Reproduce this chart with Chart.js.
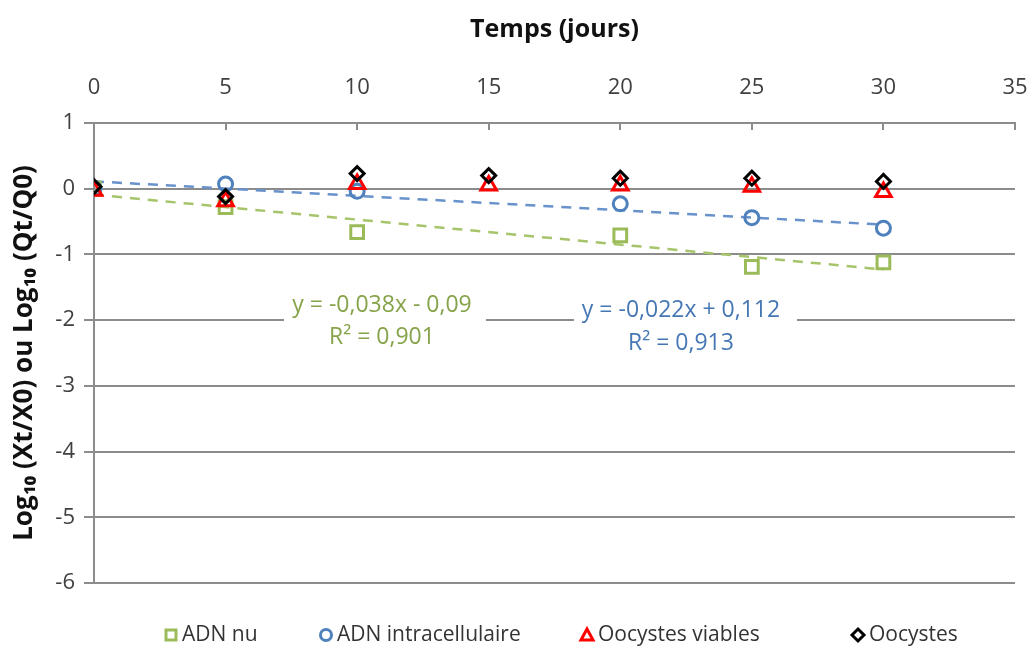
<!DOCTYPE html>
<html>
<head>
<meta charset="utf-8">
<script src="https://cdn.jsdelivr.net/npm/chart.js@4/dist/chart.umd.min.js"></script>
<style>
  html, body { margin: 0; padding: 0; background: #fff; }
  #wrap { width: 1032px; height: 648px; position: relative; }
</style>
</head>
<body>
<div id="wrap"><canvas id="chart"></canvas></div>
<script>
// données
const days = [0, 5, 10, 15, 20, 25, 30];
const adnNu = [0, -0.28, -0.66, null, -0.71, -1.19, -1.12];
const adnIntra = [0, 0.07, -0.04, null, -0.23, -0.44, -0.6];
const oocystesViables = [-0.03, -0.19, 0.07, 0.05, 0.05, 0.03, -0.05];
const oocystes = [0.03, -0.12, 0.23, 0.2, 0.16, 0.16, 0.11];

// courbes de tendance (extrémités à x = 0 et x = 30)
const trendX = [0, 30];
const trendNu = [-0.09, -1.23];
const trendIntra = [0.112, -0.548];

const xTicks = [0, 5, 10, 15, 20, 25, 30, 35];
const yTicks = [1, 0, -1, -2, -3, -4, -5, -6];

const seriesNames = ['ADN nu', 'ADN intracellulaire', 'Oocystes viables', 'Oocystes'];
const eqNu = ['y = -0,038x - 0,09', 'R² = 0,901'];
const eqIntra = ['y = -0,022x + 0,112', 'R² = 0,913'];

const FONT = '"Open Sans", Lato, sans-serif';
const GREEN = '#9BBB59';
const BLUE = '#4F81BD';
const RED = '#FF0000';
const BLACK = '#000000';

function toPoints(xs, ys) {
    const pts = [];
    xs.forEach((x, i) => {
        if (ys[i] !== null) pts.push({ x: x, y: ys[i] });
    });
    return pts;
}

// marqueurs vers l'intérieur sur l'axe du haut
const innerTicks = {
    id: 'innerTicks',
    afterDraw(chart) {
        const ctx = chart.ctx;
        const xs = chart.scales.x;
        const top = chart.chartArea.top;
        ctx.save();
        ctx.strokeStyle = '#8c8c8c';
        ctx.lineWidth = 2;
        xTicks.forEach(v => {
            const px = Math.round(xs.getPixelForValue(v));
            ctx.beginPath();
            ctx.moveTo(px, top);
            ctx.lineTo(px, top + 7);
            ctx.stroke();
        });
        ctx.restore();
    }
};

// étiquettes des équations
const equations = {
    id: 'equations',
    afterDatasetsDraw(chart) {
        const ctx = chart.ctx;
        ctx.save();
        ctx.font = '23px ' + FONT;
        ctx.textAlign = 'center';
        ctx.textBaseline = 'middle';
        const boxes = [
            { lines: eqNu, color: '#86A34A', x0: 284, x1: 486, y0: 291, y1: 352, cx: [382, 382], cy: [305, 337] },
            { lines: eqIntra, color: '#4677B5', x0: 574, x1: 797, y0: 296, y1: 358, cx: [681, 681], cy: [310, 343] }
        ];
        boxes.forEach(b => {
            ctx.fillStyle = '#ffffff';
            ctx.fillRect(b.x0, b.y0, b.x1 - b.x0, b.y1 - b.y0);
            ctx.fillStyle = b.color;
            b.lines.forEach((t, i) => ctx.fillText(t, b.cx[i], b.cy[i]));
        });
        ctx.restore();
    }
};

// légende en bas façon Excel
const bottomLegend = {
    id: 'bottomLegend',
    afterDraw(chart) {
        const ctx = chart.ctx;
        const y = 635;
        const items = [
            { style: 'rect', color: GREEN, x: 171 },
            { style: 'circle', color: BLUE, x: 326 },
            { style: 'triangle', color: RED, x: 587 },
            { style: 'diamond', color: BLACK, x: 858 }
        ];
        ctx.save();
        ctx.lineWidth = 3;
        items.forEach((it, i) => {
            ctx.strokeStyle = it.color;
            ctx.beginPath();
            if (it.style === 'rect') {
                ctx.rect(it.x - 5, y - 5, 10, 10);
            } else if (it.style === 'circle') {
                ctx.arc(it.x, y, 5.5, 0, Math.PI * 2);
            } else if (it.style === 'triangle') {
                ctx.moveTo(it.x, y - 6);
                ctx.lineTo(it.x + 6, y + 5);
                ctx.lineTo(it.x - 6, y + 5);
                ctx.closePath();
            } else {
                ctx.moveTo(it.x, y - 6);
                ctx.lineTo(it.x + 6, y);
                ctx.lineTo(it.x, y + 6);
                ctx.lineTo(it.x - 6, y);
                ctx.closePath();
            }
            ctx.stroke();
            ctx.fillStyle = '#333333';
            ctx.font = '21px ' + FONT;
            ctx.textAlign = 'left';
            ctx.textBaseline = 'middle';
            ctx.fillText(seriesNames[i], it.x + 11, y);
        });
        ctx.restore();
    }
};

new Chart(document.getElementById('chart'), {
    type: 'scatter',
    data: {
        datasets: [{
            type: 'line',
            label: 'Tendance ADN nu',
            data: toPoints(trendX, trendNu),
            borderColor: '#A6C46A',
            borderWidth: 2.5,
            borderDash: [10, 8],
            pointRadius: 0,
            order: 6
        }, {
            type: 'line',
            label: 'Tendance ADN intracellulaire',
            data: toPoints(trendX, trendIntra),
            borderColor: '#6892CC',
            borderWidth: 2.5,
            borderDash: [10, 8],
            pointRadius: 0,
            order: 5
        }, {
            label: seriesNames[0],
            data: toPoints(days, adnNu),
            pointStyle: 'rect',
            pointRadius: 9,
            pointBorderWidth: 3,
            borderColor: GREEN,
            backgroundColor: 'rgba(0,0,0,0)',
            order: 4
        }, {
            label: seriesNames[1],
            data: toPoints(days, adnIntra),
            pointStyle: 'circle',
            pointRadius: 7,
            pointBorderWidth: 3,
            borderColor: BLUE,
            backgroundColor: 'rgba(0,0,0,0)',
            order: 3
        }, {
            label: seriesNames[2],
            data: toPoints(days, oocystesViables),
            pointStyle: 'triangle',
            pointRadius: 9,
            pointBorderWidth: 3,
            borderColor: RED,
            backgroundColor: 'rgba(0,0,0,0)',
            order: 2
        }, {
            label: seriesNames[3],
            data: toPoints(days, oocystes),
            pointStyle: 'rectRot',
            pointRadius: 7,
            pointBorderWidth: 3,
            borderColor: BLACK,
            backgroundColor: 'rgba(0,0,0,0)',
            order: 1
        }]
    },
    options: {
        responsive: true,
        maintainAspectRatio: false,
        animation: false,
        events: [],
        layout: { padding: { top: 0, right: 0, bottom: 65, left: 0 } },
        plugins: {
            legend: { display: false },
            tooltip: { enabled: false }
        },
        scales: {
            x: {
                type: 'linear',
                position: 'top',
                min: 0,
                max: 35,
                afterBuildTicks: axis => { axis.ticks = xTicks.map(v => ({ value: v })); },
                afterFit: axis => {
                    axis.height = 123;
                    axis.paddingLeft = 0;
                    axis.paddingRight = 17;
                },
                grid: { display: false, drawTicks: false },
                border: { display: true, color: '#8c8c8c', width: 2 },
                ticks: {
                    color: '#404040',
                    font: { family: FONT, size: 22 },
                    padding: 22,
                    maxRotation: 0
                },
                title: {
                    display: true,
                    text: 'Temps (jours)',
                    color: '#111111',
                    font: { family: FONT, size: 25, weight: 'bold' },
                    padding: { top: 15, bottom: 0 }
                }
            },
            y: {
                type: 'linear',
                min: -6,
                max: 1,
                afterBuildTicks: axis => { axis.ticks = yTicks.map(v => ({ value: v })); },
                afterFit: axis => { axis.width = 94; },
                grid: {
                    color: '#8c8c8c',
                    lineWidth: 2,
                    drawTicks: true,
                    tickLength: 10
                },
                border: { display: true, color: '#8c8c8c', width: 2 },
                ticks: {
                    color: '#404040',
                    font: { family: FONT, size: 22 },
                    padding: 9
                },
                title: {
                    display: true,
                    text: 'Log₁₀ (Xt/X0) ou Log₁₀ (Qt/Q0)',
                    color: '#111111',
                    font: { family: FONT, size: 26, weight: 'bold' },
                    padding: { top: 9, bottom: 0 }
                }
            }
        }
    },
    plugins: [innerTicks, equations, bottomLegend]
});
</script>
</body>
</html>
